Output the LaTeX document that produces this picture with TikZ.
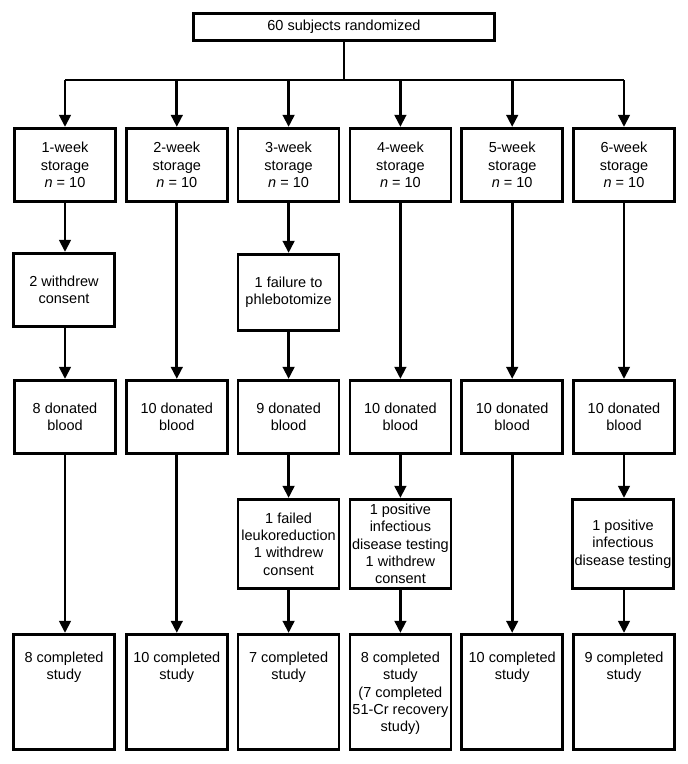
\documentclass[tikz,border=0pt]{standalone}
\usepackage{fontspec}
\setmainfont{Liberation Sans}
\usetikzlibrary{arrows.meta}
\begin{document}
\begin{tikzpicture}[x=1pt,y=-1pt,
  box/.style={draw, line width=2.7pt, minimum width=101pt, inner sep=0pt, align=center, font=\fontsize{14.5}{17.3}\selectfont},
  txt/.style={inner sep=0pt, align=center, font=\fontsize{14.5}{17.3}\selectfont},
  arr/.style={line width=2.7pt, -{Triangle[length=12pt,width=11.5pt]}},
  ln/.style={line width=2.7pt}]
\useasboundingbox (0,0) rectangle (688,764);
% top
\node[box, minimum width=301pt, minimum height=27.5pt] (top) at (344,27) {60 subjects randomized};
\coordinate (bl) at (65,80);
\coordinate (br) at (624,80);
% row 1
\node[box, minimum height=73.5pt] (a1) at (65,165)    {1-week\\storage\\\textit{n} = 10};
\node[box, minimum height=73.5pt] (a2) at (176.8,165) {2-week\\storage\\\textit{n} = 10};
\node[box, minimum height=73.5pt] (a3) at (288.6,165) {3-week\\storage\\\textit{n} = 10};
\node[box, minimum height=73.5pt] (a4) at (400.4,165) {4-week\\storage\\\textit{n} = 10};
\node[box, minimum height=73.5pt] (a5) at (512.2,165) {5-week\\storage\\\textit{n} = 10};
\node[box, minimum height=73.5pt] (a6) at (624,165)   {6-week\\storage\\\textit{n} = 10};
% row 2
\node[box, minimum height=73.5pt] (b1) at (64,290)    {2 withdrew\\consent};
\node[box, minimum height=76.5pt] (b3) at (288.6,292.5) {1 failure to\\phlebotomize};
% row 3
\node[box, minimum height=73.5pt] (c1) at (65,417)    {8 donated\\blood};
\node[box, minimum height=73.5pt] (c2) at (176.8,417) {10 donated\\blood};
\node[box, minimum height=73.5pt] (c3) at (288.6,417) {9 donated\\blood};
\node[box, minimum height=73.5pt] (c4) at (400.4,417) {10 donated\\blood};
\node[box, minimum height=73.5pt] (c5) at (512.2,417) {10 donated\\blood};
\node[box, minimum height=73.5pt] (c6) at (624,417)   {10 donated\\blood};
% row 4
\node[box, minimum height=89.5pt] (d3) at (288.6,544) {1 failed\\leukoreduction\\1 withdrew\\consent};
\node[box, minimum height=89.5pt] (d4) at (400.4,544) {1 positive\\infectious\\disease testing\\1 withdrew\\consent};
\node[box, minimum height=89.5pt] (d6) at (623,544)   {1 positive\\infectious\\disease testing};
% row 5
\node[box, minimum height=115.5pt] (e1) at (64,692)    {};
\node[box, minimum height=115.5pt] (e2) at (176.8,692) {};
\node[box, minimum height=115.5pt] (e3) at (288.6,692) {};
\node[box, minimum height=115.5pt] (e4) at (400.4,692) {};
\node[box, minimum height=115.5pt] (e5) at (512.2,692) {};
\node[box, minimum height=115.5pt] (e6) at (624,692)   {};
\node[txt, anchor=north] (t1) at ([yshift=-19pt]e1.north) {8 completed\\study};
\node[txt, anchor=north] (t2) at ([yshift=-19pt]e2.north) {10 completed\\study};
\node[txt, anchor=north] (t3) at ([yshift=-19pt]e3.north) {7 completed\\study};
\node[txt, anchor=north] (t4) at ([yshift=-19pt]e4.north) {8 completed\\study\\(7 completed\\51-Cr recovery\\study)};
\node[txt, anchor=north] (t5) at ([yshift=-19pt]e5.north) {10 completed\\study};
\node[txt, anchor=north] (t6) at ([yshift=-19pt]e6.north) {9 completed\\study};
% connectors
\draw[ln] (top.south) -- (top.south |- bl);
\draw[ln] (bl) -- (br);
\foreach \n in {a1,a2,a3,a4,a5,a6} \draw[arr] (\n.north |- bl) -- (\n.north);
\draw[arr] (a1) -- (a1 |- b1.north);
\draw[arr] (b1.south -| a1) -- (a1 |- c1.north);
\draw[arr] (c1.south) -- (c1 |- e1.north);
\draw[arr] (a2.south) -- (c2.north);
\draw[arr] (c2.south) -- (e2.north);
\draw[arr] (a3.south) -- (b3.north);
\draw[arr] (b3.south) -- (c3.north);
\draw[arr] (c3.south) -- (d3.north);
\draw[arr] (d3.south) -- (e3.north);
\draw[arr] (a4.south) -- (c4.north);
\draw[arr] (c4.south) -- (d4.north);
\draw[arr] (d4.south) -- (e4.north);
\draw[arr] (a5.south) -- (c5.north);
\draw[arr] (c5.south) -- (e5.north);
\draw[arr] (a6.south) -- (c6.north);
\draw[arr] (c6.south) -- (c6 |- d6.north);
\draw[arr] (c6 |- d6.south) -- (c6 |- e6.north);
\end{tikzpicture}
\end{document}
